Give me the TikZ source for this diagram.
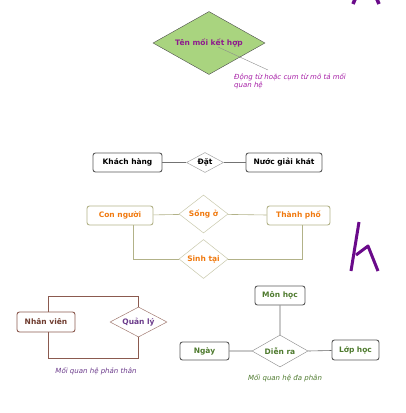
\documentclass[tikz,border=0pt]{standalone}
\usepackage{fontspec}
\setmainfont{DejaVu Sans}
\usetikzlibrary{shapes.geometric}
\definecolor{leafgreen}{HTML}{A9D47F}
\definecolor{plum}{HTML}{8E1B8E}
\definecolor{notepink}{HTML}{A61EA6}
\definecolor{olive}{HTML}{B2B288}
\definecolor{carrot}{HTML}{F07A10}
\definecolor{bark}{HTML}{8B5A4F}
\definecolor{barktext}{HTML}{6E3B2E}
\definecolor{violet}{HTML}{6B3B8B}
\definecolor{moss}{HTML}{4E7A2E}
\definecolor{ink}{HTML}{6A0A8A}
\begin{document}
\begin{tikzpicture}[x=1pt,y=-1pt,
	every node/.style={font=\fontsize{7.5}{9}\selectfont\bfseries,inner sep=0},
	entity/.style={rectangle,rounded corners=2.5pt,draw=#1,line width=0.9pt,minimum height=19pt},
	relation/.style={diamond,draw=#1,line width=0.5pt,fill=white},
	note/.style={font=\fontsize{7}{8.5}\selectfont\itshape,align=left}]
\useasboundingbox (0,0) rectangle (405,413);
% ky hieu moi ket hop
\node[diamond,draw=black!70,fill=leafgreen,aspect=1.78,minimum width=112pt,minimum height=63pt,text=plum] (rel) at (209,43) {Tên mối kết hợp};
\node[note,text=notepink,anchor=north west] (ghichu) at (234,73) {Động từ hoặc cụm từ mô tả mối\\quan hệ};
\coordinate (tip) at (268,70);
\draw[black!45,line width=0.4pt] (218,47) -- (tip);
% nhi phan
\node[entity=black!65,minimum width=69pt] (kh) at (127.5,162.5) {Khách hàng};
\node[relation=black!35,aspect=1.85,minimum width=37pt,minimum height=20pt] (dat) at (205,162.5) {Đặt};
\node[entity=black!65,minimum width=76pt] (nuoc) at (284,162.5) {Nước giải khát};
\draw[black!55,line width=0.6pt] (kh) -- (dat) -- (nuoc);
% hai moi quan he
\node[entity=olive,minimum width=66pt,text=carrot] (cn) at (120,215.5) {Con người};
\node[relation=olive!70,aspect=1.29,minimum width=49pt,minimum height=38pt,text=carrot] (song) at (203.5,214) {Sống ở};
\node[entity=olive,minimum width=63pt,text=carrot] (tp) at (298.5,215.5) {Thành phố};
\node[relation=olive!70,aspect=1.26,minimum width=49pt,minimum height=39pt,text=carrot] (sinh) at (203.5,259) {Sinh tại};
\draw[olive,line width=0.6pt] (cn) -- (song) -- (tp);
\draw[olive,line width=0.6pt] ([xshift=13pt]cn.south) |- (sinh.west);
\draw[olive,line width=0.6pt] ([xshift=3.5pt]tp.south) |- (sinh.east);
% phan than
\node[entity=bark,minimum width=58pt,minimum height=20pt,text=barktext] (nv) at (46,322) {Nhân viên};
\node[relation=bark!80,aspect=1.9,minimum width=57pt,minimum height=30pt,text=violet] (ql) at (138.5,322) {Quản lý};
\draw[bark,line width=0.6pt] ([xshift=2pt]nv.north) -- ++(0,-15) -| (ql.north);
\draw[bark,line width=0.6pt] ([xshift=2pt]nv.south) -- ++(0,26) -| (ql.south);
\node[note,text=violet] (cap1) at (96,371) {Mối quan hệ phản thân};
% da phan
\node[entity=black!65,minimum width=50pt,text=moss] (mh) at (280,295.5) {Môn học};
\node[relation=black!40,aspect=1.75,minimum width=56pt,minimum height=32pt,text=moss] (dr) at (280,351) {Diễn ra};
\node[entity=black!65,minimum width=49pt,minimum height=18pt,text=moss] (ngay) at (204.5,351) {Ngày};
\node[entity=black!65,minimum width=47pt,minimum height=20pt,text=moss] (lop) at (355.5,350) {Lớp học};
\draw[black!60,line width=0.6pt] (mh) -- (dr.north) (ngay) -- (dr.west) (dr.east) -- (lop);
\node[note,text=moss] (cap2) at (285,378) {Mối quan hệ đa phân};
% net but
\draw[ink,line width=3.5pt] (356,-3) -- (353,4) (376,-3) -- (379,4);
\draw[ink,line width=3pt,line join=round] (359,222) -- (351,271);
\draw[ink,line width=3pt,line join=round] (356,255) -- (368,246) -- (378,271);
\end{tikzpicture}
\end{document}
